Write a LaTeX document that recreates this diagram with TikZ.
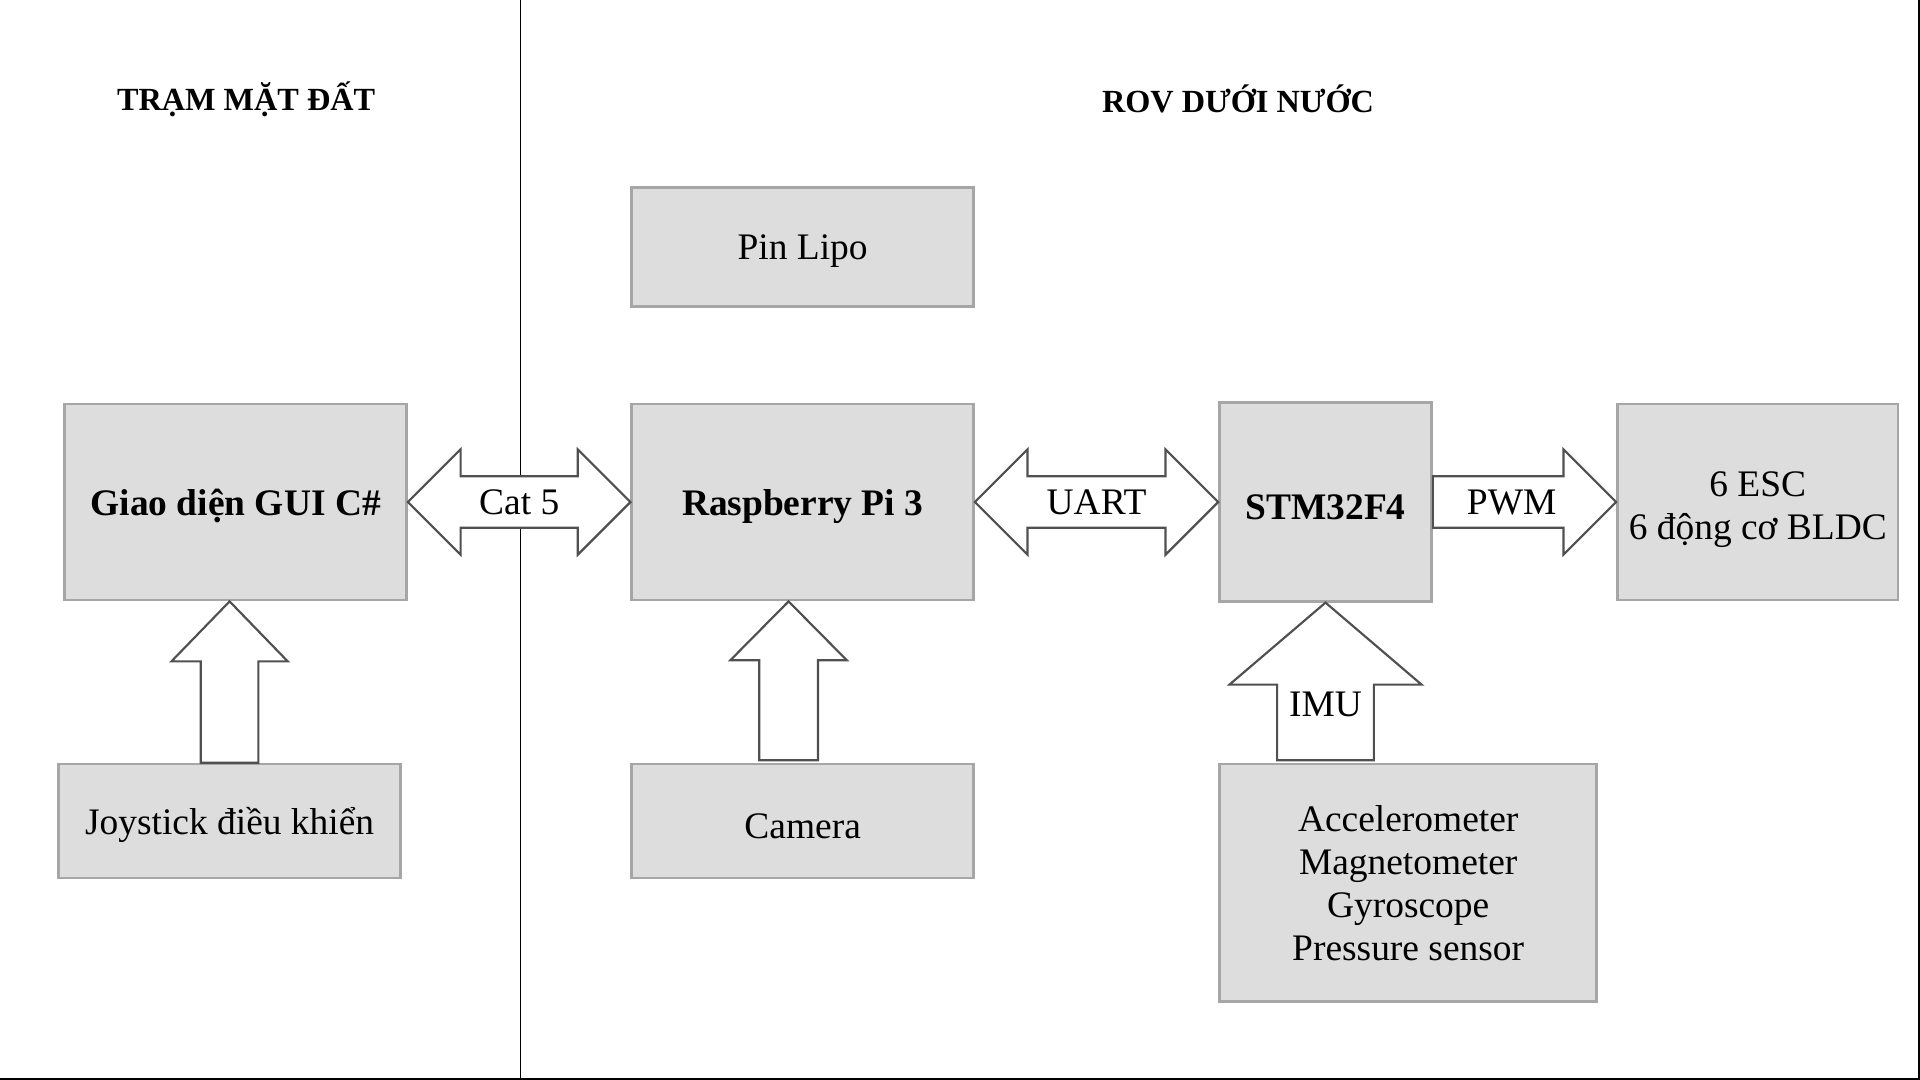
\documentclass[tikz,border=0pt]{standalone}
\usepackage{fontspec}
\setmainfont{Liberation Serif}
\usepackage{xcolor}
\usepackage{tikz}
\usetikzlibrary{calc}

\definecolor{boxfill}{HTML}{DDDDDD}
\definecolor{boxline}{HTML}{A6A6A6}
\definecolor{arrline}{HTML}{505050}

\begin{document}
\begin{tikzpicture}[x=0.2mm, y=-0.2mm,
    blk/.style={draw=boxline, fill=boxfill, line width=1.3pt, inner sep=0pt, align=center, font=\fontsize{17.4}{20}\selectfont},
    one/.style={text height=16pt},
    arr/.style={draw=arrline, fill=white, line width=1pt},
    lbl/.style={inner sep=0pt, align=center, font=\fontsize{17.4}{20}\selectfont},
    ttl/.style={inner sep=0pt, font=\fontsize{15}{18}\selectfont\bfseries}]
    \useasboundingbox (0,0) rectangle (1568,882);

    % tieu de
    \node[ttl] (tram) at (201,81) {TRẠM MẶT ĐẤT};
    \node[ttl] (rov) at (1011,81) {ROV DƯỚI NƯỚC};

    % duong chia va khung
    \coordinate (dTop) at (425,0);
    \coordinate (dBot) at (425,880.8);
    \coordinate (fBL) at (0,880.8);
    \coordinate (fBR) at (1567.2,880.8);
    \coordinate (fTR) at (1567.2,0);
    \draw [line width=0.7pt] (dTop)--(dBot);
    \draw [line width=0.9pt] (fBL)--(fBR)--(fTR);

    % cac khoi
    \node[blk, one, minimum width=5.58cm, minimum height=3.2cm] (gui) at (192.5,410) {\bfseries Giao diện GUI C\#};
    \node[blk, one, minimum width=5.58cm, minimum height=1.86cm] (joy) at (187.5,670.5) {Joystick điều khiển};
    \node[blk, one, minimum width=5.58cm, minimum height=1.94cm] (pin) at (655.5,201.5) {Pin Lipo};
    \node[blk, one, minimum width=5.58cm, minimum height=3.2cm] (rpi) at (655.5,410) {\bfseries Raspberry Pi 3};
    \node[blk, one, minimum width=5.58cm, minimum height=1.86cm] (cam) at (655.5,670.5) {Camera};
    \node[blk, one, minimum width=3.46cm, minimum height=3.24cm] (stm) at (1082.5,410) {\bfseries STM32F4};
    \node[blk, minimum width=4.58cm, minimum height=3.2cm] (esc) at (1435.5,410) {};
    \node[lbl] (escT) at ($(esc.center)+(0,6)$) {6 ESC\\6 động cơ BLDC};
    \node[blk, minimum width=6.16cm, minimum height=3.88cm] (sens) at (1150,721) {Accelerometer\\Magnetometer\\Gyroscope\\Pressure sensor};

    % Cat 5
    \draw [arr] (gui.east)--($(gui.east)+(43,-43)$)--($(gui.east)+(43,-21)$)--($(rpi.west)+(-43,-21)$)--($(rpi.west)+(-43,-43)$)--(rpi.west)
        --($(rpi.west)+(-43,43)$)--($(rpi.west)+(-43,21)$)--($(gui.east)+(43,21)$)--($(gui.east)+(43,43)$)--cycle;
    \path (gui.east) -- node[lbl] (cat) {Cat 5} (rpi.west);

    % UART
    \draw [arr] (rpi.east)--($(rpi.east)+(43,-43)$)--($(rpi.east)+(43,-21)$)--($(stm.west)+(-43,-21)$)--($(stm.west)+(-43,-43)$)--(stm.west)
        --($(stm.west)+(-43,43)$)--($(stm.west)+(-43,21)$)--($(rpi.east)+(43,21)$)--($(rpi.east)+(43,43)$)--cycle;
    \path (rpi.east) -- node[lbl] (uart) {UART} (stm.west);

    % PWM
    \draw [arr] ($(stm.east)+(0,-21)$)--($(esc.west)+(-43,-21)$)--($(esc.west)+(-43,-43)$)--(esc.west)
        --($(esc.west)+(-43,43)$)--($(esc.west)+(-43,21)$)--($(stm.east)+(0,21)$)--cycle;
    \path (stm.east) -- node[lbl, pos=0.43] (pwm) {PWM} (esc.west);

    % joystick -> GUI
    \coordinate (jT) at (joy.north |- gui.south);
    \draw [arr] (jT)--($(jT)+(47.5,49)$)--($(jT)+(23.5,49)$)--($(joy.north)+(23.5,0)$)--($(joy.north)+(-23.5,0)$)
        --($(jT)+(-23.5,49)$)--($(jT)+(-47.5,49)$)--cycle;

    % camera -> raspberry
    \coordinate (cT) at ($(cam.north |- rpi.south)+(-11.5,0)$);
    \coordinate (cB) at ($(cam.north)+(-11.5,-2)$);
    \draw [arr] (cT)--($(cT)+(47.5,48)$)--($(cT)+(24,48)$)--($(cB)+(24,0)$)--($(cB)+(-24,0)$)
        --($(cT)+(-24,48)$)--($(cT)+(-47.5,48)$)--cycle;

    % IMU -> STM32F4
    \coordinate (iT) at (stm.south);
    \coordinate (iB) at ($(sens.north -| stm.south)+(0,-2)$);
    \draw [arr] (iT)--($(iT)+(78.5,67)$)--($(iT)+(39.5,67)$)--($(iB)+(39.5,0)$)--($(iB)+(-39.5,0)$)
        --($(iT)+(-39.5,67)$)--($(iT)+(-78.5,67)$)--cycle;
    \node[lbl] (imu) at ($(iT)+(0,83)$) {IMU};
\end{tikzpicture}
\end{document}
